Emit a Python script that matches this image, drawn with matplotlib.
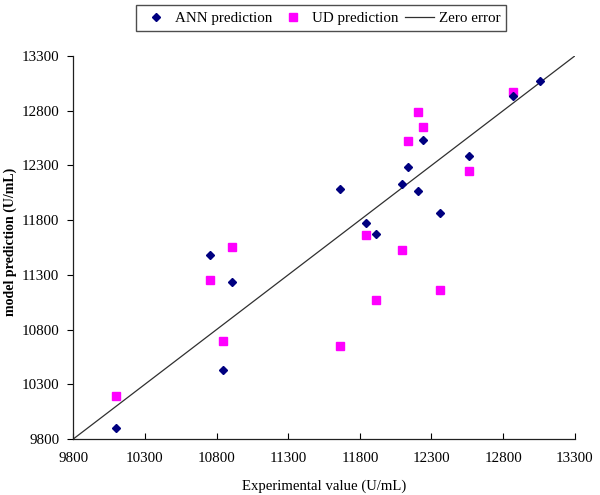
import matplotlib
matplotlib.use("Agg")
import matplotlib.pyplot as plt
from matplotlib.ticker import FixedLocator

plt.rcParams['font.family'] = ['Liberation Serif', 'DejaVu Serif']

exp_ann = [10100, 10755, 10845, 10905, 11660, 11846, 11916, 12095, 12136, 12208, 12238, 12358, 12562, 12872, 13058]
ann_pred = [9903, 11482, 10434, 11235, 12082, 11774, 11677, 12131, 12289, 12070, 12533, 11866, 12387, 12938, 13075]

exp_ud = [10100, 10755, 10845, 10905, 11660, 11846, 11916, 12095, 12136, 12208, 12238, 12358, 12562, 12872]
ud_pred = [10193, 11253, 10699, 11555, 10647, 11665, 11071, 11530, 12524, 12792, 12655, 11159, 12253, 12969]

zero_line = [9800, 13300]
ticks = [9800, 10300, 10800, 11300, 11800, 12300, 12800, 13300]

fig = plt.figure(figsize=(6.0, 4.95), dpi=100)
ax = fig.add_axes([0.122, 0.113, 0.836, 0.774])

ax.plot(exp_ann, ann_pred, linestyle='none', marker='D', markersize=4.0,
        color='#000080', label='ANN prediction', zorder=3)
ax.plot(exp_ud, ud_pred, linestyle='none', marker='s', markersize=5.2,
        color='#FF00FF', label='UD prediction', zorder=2)
ax.plot(zero_line, zero_line, color='#303030', linewidth=0.9, label='Zero error', zorder=1)

ax.set_xlim(9800, 13300)
ax.set_ylim(9800, 13300)
ax.xaxis.set_major_locator(FixedLocator(ticks))
ax.yaxis.set_major_locator(FixedLocator(ticks))
ax.tick_params(axis='both', length=4, width=0.8, labelsize=10.8)
ax.tick_params(axis='y', direction='out', pad=6)
ax.tick_params(axis='x', direction='in', pad=9)

for s in ['top', 'right']:
    ax.spines[s].set_visible(False)
for s in ['left', 'bottom']:
    ax.spines[s].set_linewidth(0.9)
    ax.spines[s].set_color('#202020')

ax.set_xlabel('Experimental value (U/mL)', fontsize=10.6, labelpad=11)
ax.set_ylabel('model prediction (U/mL)', fontsize=10, fontweight='bold')
ax.yaxis.set_label_coords(-0.113, 0.515)

leg = fig.legend(loc='upper center', bbox_to_anchor=(0.535, 0.995), ncol=3,
                 fontsize=10.8, frameon=True, fancybox=False, edgecolor='#202020',
                 handlelength=1.9, columnspacing=0.4, handletextpad=0.35,
                 borderpad=0.4, borderaxespad=0.2)
leg.get_frame().set_linewidth(1.0)

fig.savefig('out.png', dpi=100)
